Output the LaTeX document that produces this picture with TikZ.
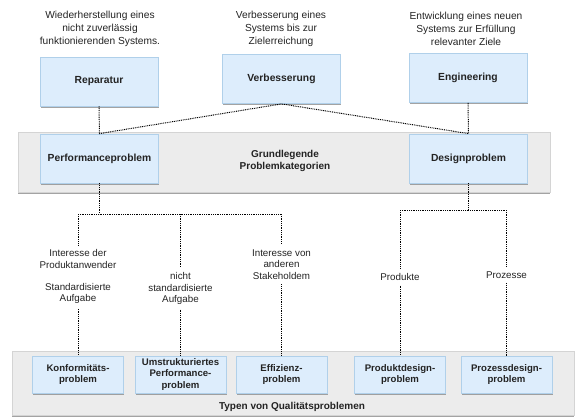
\documentclass[tikz,border=0pt]{standalone}
\usepackage{fontspec}
\setmainfont{Liberation Sans}
\usetikzlibrary{shadows}
\definecolor{boxfill}{RGB}{221,237,252}
\definecolor{boxdraw}{RGB}{176,208,234}
\definecolor{bandfill}{RGB}{236,236,236}
\definecolor{banddraw}{RGB}{212,212,212}
\definecolor{txt}{RGB}{35,35,35}
\begin{document}
\begin{tikzpicture}[x=1pt,y=1pt,
  box/.style={draw=boxdraw, fill=boxfill, line width=0.8pt, text=txt, font=\bfseries\fontsize{10.3}{12}\selectfont, align=center, inner sep=0pt, drop shadow={shadow xshift=0.8pt, shadow yshift=-1.6pt, fill=black!45, opacity=0.8}},
  topbox/.style={box, minimum width=118pt, minimum height=49pt},
  botbox/.style={box, minimum width=91pt, minimum height=37pt, font=\bfseries\fontsize{9.6}{11.5}\selectfont},
  band/.style={draw=banddraw, fill=bandfill, line width=0.6pt, inner sep=0pt, drop shadow={shadow xshift=0pt, shadow yshift=-2pt, fill=black!40, opacity=0.9}},
  bandtext/.style={text=txt, font=\bfseries\fontsize{10}{12}\selectfont, align=center, inner sep=0pt},
  desc/.style={text=txt, font=\fontsize{10.2}{13}\selectfont, align=center, inner sep=0pt},
  lab/.style={text=txt, font=\fontsize{9.8}{11.5}\selectfont, align=center, inner sep=0pt, outer sep=5pt},
  conn/.style={line width=1pt, dash pattern=on 0.9pt off 0.9pt, black}
]
\useasboundingbox (0,0) rectangle (576,-416);

% bands
\node[band, minimum width=532pt, minimum height=60pt] (midband) at (284,-162) {};
\node[band, minimum width=562pt, minimum height=64pt] (botband) at (293,-383) {};
\node[bandtext] (midtext) at (285,-161) {Grundlegende\\Problemkategorien};
\node[bandtext] (bottext) at (292,-407) {Typen von Qualitätsproblemen};

% top descriptions
\node[desc] (d1) at (100,-29) {Wiederherstellung eines\\nicht zuverlässig\\funktionierenden Systems.};
\node[desc] (d2) at (281,-29) {Verbesserung eines\\Systems bis zur\\Zielerreichung};
\node[desc] (d3) at (466,-29) {Entwicklung eines neuen\\Systems zur Erfüllung\\relevanter Ziele};

% top boxes
\node[topbox] (rep) at (99,-81.5) {Reparatur};
\node[topbox] (ver) at (281.5,-79) {Verbesserung};
\node[topbox] (eng) at (468,-78) {Engineering};

% middle boxes
\node[topbox] (perf) at (99.5,-158.5) {Performanceproblem};
\node[topbox] (des) at (468.5,-158.5) {Designproblem};

% bottom boxes
\node[botbox] (konf) at (78,-374.5) {Konformitäts-\\problem};
\node[botbox] (umst) at (180.5,-374.5) {Umstrukturiertes\\Performance-\\problem};
\node[botbox] (eff) at (281.5,-374.5) {Effizienz-\\problem};
\node[botbox] (prod) at (400,-374.5) {Produktdesign-\\problem};
\node[botbox] (proz) at (506.5,-374.5) {Prozessdesign-\\problem};

% labels
\node[lab] (l1) at (78,-259) {Interesse der\\Produktanwender};
\node[lab] (l2) at (78,-293.5) {Standardisierte\\Aufgabe};
\node[lab] (lm) at (180.5,-288.5) {nicht\\standardisierte\\Aufgabe};
\node[lab] (lr) at (281.5,-264.5) {Interesse von\\anderen\\Stakeholdem};
\node[lab] (lp) at (400,-277) {Produkte};
\node[lab] (lz) at (506.5,-275) {Prozesse};

% junctions
\coordinate (pj) at (99.5,-214);
\coordinate (pl) at (78,-214);
\coordinate (pm) at (180.5,-214);
\coordinate (pr) at (281.5,-214);
\coordinate (dj) at (468.5,-210);
\coordinate (dl) at (400,-210);
\coordinate (dr) at (506.5,-210);

% connectors
\draw[conn] (rep.south) -- (perf.north) -- (ver.south) -- (des.north);
\draw[conn] (eng.south) -- (des.north);
\draw[conn] (perf.south) -- (pj);
\draw[conn] (pl) -- (pr);
\draw[conn] (pl) -- (l1.north);
\draw[conn] (l2.south) -- (konf.north);
\draw[conn] (pm) -- (lm.north);
\draw[conn] (lm.south) -- (umst.north);
\draw[conn] (pr) -- (lr.north);
\draw[conn] (lr.south) -- (eff.north);
\draw[conn] (des.south) -- (dj);
\draw[conn] (dl) -- (dr);
\draw[conn] (dl) -- (lp.north);
\draw[conn] (lp.south) -- (prod.north);
\draw[conn] (dr) -- (lz.north);
\draw[conn] (lz.south) -- (proz.north);
\end{tikzpicture}
\end{document}
